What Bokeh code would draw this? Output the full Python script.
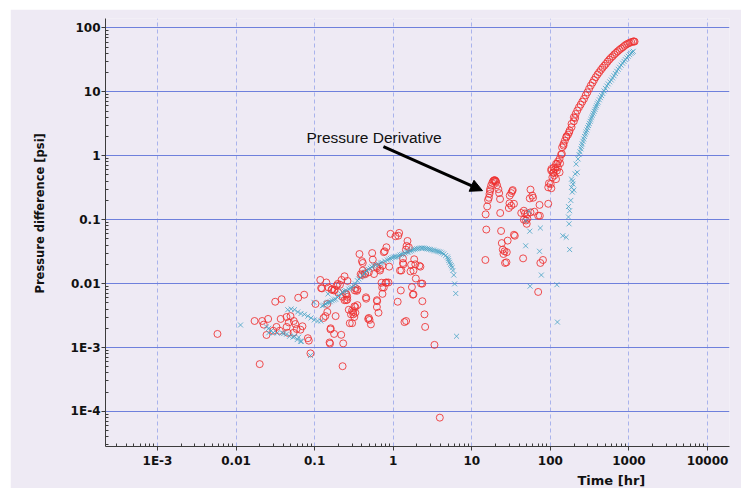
import numpy as np
from bokeh.plotting import figure
from bokeh.models import (Range1d, FixedTicker, CustomJSTickFormatter, Label,
                          Arrow, NormalHead, Title)
from bokeh.embed import file_html
from bokeh.resources import INLINE

# ---- Pressure derivative (red circles): elapsed time [hr] and value [psi]
deriv_time = [
    0.0058, 0.020, 0.0172, 0.0215, 0.0256, 0.0225, 0.0244, 0.0315, 0.038, 0.0618,
    0.0736, 0.037, 0.0439, 0.0493, 0.0327, 0.036, 0.044, 0.0469, 0.0543, 0.0568,
    0.059, 0.070, 0.066, 0.054, 0.0455, 0.0297, 0.0843, 0.082, 0.0885, 0.1026,
    0.118, 0.141, 0.150, 0.155, 0.159, 0.177, 0.157, 0.218, 0.231, 0.227,
    0.185, 0.121, 0.164, 0.176, 0.197, 0.240, 0.262, 0.252, 0.228, 0.255,
    0.272, 0.30, 0.321, 0.29, 0.31, 0.28, 0.30, 0.453, 0.48, 0.50,
    0.52, 0.625, 0.65, 0.62, 0.724,
    0.372, 0.54, 0.55, 0.40, 0.41, 0.61, 0.68, 0.57, 0.435, 0.40,
    0.41, 0.76, 0.78, 0.82, 0.924, 1.07, 1.19, 1.16, 1.52, 1.45,
    1.48, 1.58, 0.89, 0.82, 0.87, 1.25, 1.14, 1.39, 1.46, 1.27,
    1.35, 1.33, 1.69, 1.91, 2.22, 1.66, 1.94, 2.26, 2.35, 1.73,
    1.81, 2.35, 2.50, 2.55, 3.35, 3.92,
    1.33, 1.85, 2.15, 1.81, 1.22, 0.73, 0.625, 0.68, 0.49, 0.385,
    0.44, 0.22, 0.21, 0.19, 0.124, 0.167, 0.18, 0.20, 0.71, 0.80,
    0.76, 0.73, 0.62, 1.78, 0.33, 0.325, 0.35, 0.345, 0.45, 0.26,
    0.24, 0.26, 0.25, 0.35, 0.33, 0.145, 0.145, 0.137, 0.13, 0.31,
    0.32, 0.33, 0.49, 0.16,
    15.0, 15.7, 16.1, 16.5, 16.8, 17.1, 17.1, 17.6, 18.2, 18.7,
    19.1, 19.5, 19.8, 20.1, 20.4, 21.0, 21.8, 22.3, 22.9, 23.0,
    15.3, 14.9, 23.6, 42.6, 29.6, 31.8, 30.4, 31.8, 32.7, 33.2,
    30.2, 34.4, 55.9, 58.9, 60.3, 54.7, 72.8, 94, 46, 47.5,
    50.7, 46, 49, 51, 50, 55.9, 62.5, 70, 73.5, 34.4,
    35.3, 28.6, 24.1, 24.8, 26.1, 27.9, 25.3, 26.5, 27.6, 45,
    80.5, 74.6, 70,
    94, 96, 101, 103, 102.5, 103, 106, 108.7, 109, 110,
    112, 115, 118, 118, 121, 122, 125, 125, 131, 131,
    133, 137, 140, 141, 147, 147, 153, 160, 160, 168,
    173, 176, 186, 186, 199, 199, 207,
    210, 220, 231, 243, 255, 268, 282, 296, 311, 327,
    345, 360, 378, 398, 418, 440, 461, 485, 509, 535,
    562, 590, 621, 652, 685, 720, 757, 795, 836, 878,
    923, 970, 1020, 1070, 1127, 1155, 1180,
]
deriv_psi = [
    0.00163, 0.00055, 0.0026, 0.0026, 0.0028, 0.00228, 0.00157, 0.0052, 0.0057, 0.0060,
    0.0067, 0.0028, 0.0030, 0.0031, 0.0021, 0.00183, 0.0021, 0.00247, 0.0026, 0.00233,
    0.00195, 0.00215, 0.0019, 0.0017, 0.0017, 0.00183, 0.00128, 0.0014, 0.00081, 0.0048,
    0.0114, 0.0104, 0.0087, 0.0012, 0.00192, 0.00163, 0.00115, 0.00158, 0.00116, 0.00051,
    0.0031, 0.0085, 0.0080, 0.0078, 0.0099, 0.0130, 0.011, 0.0055, 0.0062, 0.0067,
    0.0039, 0.0038, 0.0044, 0.0033, 0.0033, 0.0024, 0.0024, 0.0058, 0.0028, 0.0027,
    0.0023, 0.0053, 0.0035, 0.0043, 0.0087,
    0.029, 0.030, 0.0237, 0.0224, 0.021, 0.0184, 0.017, 0.0141, 0.0144, 0.0136,
    0.016, 0.031, 0.032, 0.037, 0.060, 0.055, 0.062, 0.056, 0.0464, 0.034,
    0.0388, 0.037, 0.0184, 0.0104, 0.0104, 0.0078, 0.0052, 0.0025, 0.0026, 0.016,
    0.020, 0.021, 0.0197, 0.020, 0.0184, 0.0155, 0.012, 0.0100, 0.0100, 0.0088,
    0.0068, 0.0053, 0.0033, 0.0021, 0.0011, 0.00008,
    0.0247, 0.024, 0.019, 0.016, 0.016, 0.019, 0.0176, 0.016, 0.015, 0.014,
    0.014, 0.0114, 0.0096, 0.0093, 0.0084, 0.0082, 0.0080, 0.0073, 0.0103, 0.0103,
    0.0087, 0.0069, 0.0055, 0.0067, 0.0085, 0.0078, 0.0081, 0.0077, 0.0061, 0.0062,
    0.0055, 0.0056, 0.0070, 0.0046, 0.0043, 0.0048, 0.0036, 0.0031, 0.0029, 0.0036,
    0.0030, 0.0035, 0.0029, 0.0020,
    0.121, 0.161, 0.203, 0.22, 0.252, 0.28, 0.30, 0.34, 0.376, 0.40,
    0.41, 0.415, 0.41, 0.40, 0.39, 0.345, 0.30, 0.26, 0.21, 0.127,
    0.070, 0.0234, 0.0665, 0.127, 0.152, 0.165, 0.238, 0.26, 0.28, 0.29,
    0.18, 0.177, 0.295, 0.238, 0.22, 0.215, 0.17, 0.177, 0.138, 0.125,
    0.122, 0.10, 0.097, 0.104, 0.086, 0.13, 0.133, 0.115, 0.115, 0.058,
    0.056, 0.047, 0.043, 0.034, 0.032, 0.031, 0.029, 0.021, 0.0215, 0.0248,
    0.0234, 0.021, 0.0074,
    0.32, 0.37, 0.36, 0.31, 0.585, 0.62, 0.46, 0.546, 0.54, 0.65,
    0.49, 0.62, 0.43, 0.745, 0.585, 0.745, 0.66, 0.81, 0.55, 0.89,
    0.76, 1.04, 1.07, 1.35, 1.44, 1.53, 1.72, 1.94, 2.0, 2.14,
    2.32, 2.47, 2.8, 3.15, 3.45, 3.99, 3.9,
    4.5, 5.08, 5.7, 6.3, 7.0, 7.74, 8.8, 9.8, 11.1, 12.5,
    13.9, 15.3, 16.9, 18.6, 20.2, 22.0, 23.7, 25.5, 27.3, 29.6,
    31.8, 34.0, 36.0, 38.4, 40.6, 43.0, 45.3, 47.5, 49.7, 52.3,
    54.8, 56.6, 58.2, 59.8, 61.1, 61.3, 61.0,
]

# ---- Pressure difference (blue crosses): elapsed time [hr] and value [psi]
dp_time = [
    0.0114, 0.0244, 0.0261, 0.0261, 0.028, 0.0297, 0.0333, 0.0386, 0.0404, 0.0439,
    0.048, 0.053, 0.0553, 0.06, 0.0626, 0.066, 0.068, 0.0455, 0.0502, 0.0553,
    0.061, 0.067, 0.074, 0.082, 0.090, 0.099, 0.109, 0.120, 0.098, 0.0885,
    0.148,
    0.125, 0.131, 0.138, 0.144, 0.150, 0.158, 0.167, 0.176, 0.185, 0.195,
    0.204, 0.215, 0.226, 0.238, 0.25, 0.272, 0.285, 0.30, 0.315, 0.33,
    0.35, 0.365, 0.385, 0.405, 0.425, 0.44, 0.46, 0.485, 0.51, 0.535,
    0.56, 0.60, 0.65, 0.69, 0.72, 0.78, 0.84, 0.88, 0.92, 0.97,
    1.02, 1.07, 1.12, 1.17, 1.22, 1.28, 1.35, 1.42, 1.49, 1.56,
    1.64, 1.72, 1.81, 1.9, 2.0, 2.1, 2.22, 2.33, 2.45, 2.58,
    2.71, 2.85, 2.99, 3.15, 3.3, 3.47, 3.65, 3.82, 4.0, 4.2,
    4.4, 4.65, 4.9, 5.0, 5.1, 5.2, 5.35, 5.5, 5.63, 5.75,
    5.9, 6.05, 6.25, 6.4,
    53.2, 48.5, 54.7, 74.6, 48.5, 72.8, 76.8, 55.2, 121, 123,
    144, 159, 170, 173, 176, 182, 170, 176, 186, 190,
    194, 199, 186, 192,
    207, 213, 220, 225, 232, 238, 245, 249, 254, 260,
    266, 272, 279, 285, 292, 299, 306, 313, 321, 328,
    336, 344, 352, 361, 370, 378, 387, 396, 406, 420,
    434, 450, 465, 483, 502, 523, 544, 570, 596, 620,
    646, 672, 700, 730, 760, 795, 832, 865, 900, 940,
    980, 1020, 1060, 1100, 1135,
]
dp_psi = [
    0.00225, 0.0021, 0.0020, 0.0017, 0.00183, 0.0017, 0.00168, 0.0017, 0.00165, 0.00162,
    0.0015, 0.00145, 0.0015, 0.00133, 0.00145, 0.00125, 0.00125, 0.0039, 0.0040, 0.0039,
    0.0036, 0.0034, 0.0033, 0.0031, 0.0029, 0.0027, 0.0026, 0.0026, 0.0051, 0.00075,
    0.0069,
    0.0045, 0.0046, 0.0048, 0.0050, 0.0051, 0.0052, 0.0054, 0.0056, 0.0057, 0.0061,
    0.0065, 0.0069, 0.0073, 0.0076, 0.0078, 0.0082, 0.0085, 0.0087, 0.0093, 0.0099,
    0.0111, 0.0118, 0.0125, 0.0133, 0.0141, 0.015, 0.016, 0.0167, 0.0174, 0.0182,
    0.019, 0.0195, 0.020, 0.021, 0.0215, 0.0225, 0.0234, 0.024, 0.0248, 0.0255,
    0.026, 0.0262, 0.0264, 0.027, 0.028, 0.0285, 0.029, 0.030, 0.031, 0.031,
    0.032, 0.033, 0.034, 0.0345, 0.035, 0.0355, 0.036, 0.036, 0.036, 0.0355,
    0.035, 0.0345, 0.034, 0.0335, 0.033, 0.0325, 0.032, 0.0315, 0.031, 0.030,
    0.029, 0.0275, 0.026, 0.0245, 0.023, 0.0215, 0.020, 0.019, 0.0178, 0.016,
    0.0136, 0.0099, 0.0070, 0.0015,
    0.135, 0.096, 0.066, 0.074, 0.039, 0.032, 0.0136, 0.0091, 0.0096, 0.0025,
    0.056, 0.053, 0.16, 0.086, 0.034, 0.2, 0.11, 0.138, 0.32, 0.27,
    0.36, 0.29, 0.43, 0.40,
    0.52, 0.74, 0.55, 0.89, 1.04, 1.15, 1.28, 1.4, 1.53, 1.68,
    1.83, 2.0, 2.19, 2.35, 2.53, 2.75, 2.97, 3.2, 3.45, 3.7,
    3.99, 4.3, 4.62, 4.95, 5.3, 5.7, 6.06, 6.5, 6.9, 7.5,
    8.1, 8.7, 9.4, 10.3, 11.3, 12.3, 13.3, 14.3, 15.3, 16.5,
    17.8, 19.3, 20.9, 22.5, 24.2, 26.1, 28.0, 29.9, 31.8, 33.9,
    36.0, 38.0, 39.9, 41.5, 43.0,
]

# ---- Axis ticks and their labels
x_tick_values = [1e-3, 1e-2, 1e-1, 1, 10, 100, 1000, 10000]
x_tick_labels = ["1E-3", "0.01", "0.1", "1", "10", "100", "1000", "10000"]
y_tick_values = [1e-4, 1e-3, 1e-2, 1e-1, 1, 10, 100]
y_tick_labels = ["1E-4", "1E-3", "0.01", "0.1", "1", "10", "100"]

BG = "#EEEAF4"
TICK_FONT = "DejaVu Sans"


def minor_ticks(lo_exp, hi_exp):
    return [k * 10.0 ** e for e in range(lo_exp, hi_exp + 1) for k in range(2, 10)]


def label_formatter(vals, labs):
    return CustomJSTickFormatter(args=dict(vals=vals, labs=labs), code="""
        for (let i = 0; i < vals.length; i++) {
            if (Math.abs(Math.log10(vals[i]) - Math.log10(tick)) < 1e-6) return labs[i];
        }
        return "";
    """)


p = figure(width=731, height=479, x_axis_type="log", y_axis_type="log",
           x_range=Range1d(2.18e-4, 1.905e4), y_range=Range1d(2.83e-5, 140),
           output_backend="svg", toolbar_location=None,
           min_border_left=95, min_border_right=12, min_border_top=9,
           min_border_bottom=42,
           background_fill_color=BG, border_fill_color=BG,
           outline_line_color=None)
p.margin = (9, 0, 0, 10)

p.xaxis.ticker = FixedTicker(ticks=x_tick_values, minor_ticks=minor_ticks(-4, 4))
p.yaxis.ticker = FixedTicker(ticks=y_tick_values, minor_ticks=minor_ticks(-5, 2))
p.xaxis.formatter = label_formatter(x_tick_values, x_tick_labels)
p.yaxis.formatter = label_formatter(y_tick_values, y_tick_labels)

for ax in (p.xaxis[0], p.yaxis[0]):
    ax.axis_line_color = "#3c3c3c"
    ax.major_tick_line_color = "#3c3c3c"
    ax.minor_tick_line_color = "#3c3c3c"
    ax.major_tick_out = 4
    ax.major_tick_in = 0
    ax.minor_tick_out = 0
    ax.minor_tick_in = 3
    ax.major_label_text_font = TICK_FONT
    ax.major_label_text_font_style = "bold"
    ax.major_label_text_font_size = "12px"
    ax.major_label_text_color = "#111111"
p.xaxis.major_label_standoff = 3
p.yaxis.major_label_standoff = 1

# grid: solid horizontal decades, dashed vertical decades
p.ygrid.grid_line_color = "#6E80DC"
p.ygrid.grid_line_width = 1
p.xgrid.grid_line_color = "#A9B3EC"
p.xgrid.grid_line_width = 1
p.xgrid.grid_line_dash = "4 3"

p.scatter(deriv_time, deriv_psi, marker="circle", size=7, fill_color=None,
          line_color="#EE3030", line_alpha=0.85, line_width=1)
p.scatter(dp_time, dp_psi, marker="x", size=7, line_color="#45A2C4",
          line_alpha=0.8, line_width=1)

# axis titles as side titles so they can be offset along the axis
p.add_layout(Title(text="Pressure difference [psi]", align="left", offset=153,
                   standoff=41, text_font=TICK_FONT, text_font_style="bold",
                   text_font_size="11.5px", text_color="#111111"), "left")
p.add_layout(Title(text="Time [hr]", align="left", offset=472, standoff=0,
                   text_font=TICK_FONT, text_font_style="bold",
                   text_font_size="13px", text_color="#111111"), "below")

# annotation pointing at the derivative hump
p.add_layout(Label(x=0.0787, y=1.92, text="Pressure Derivative",
                   text_align="left", text_baseline="alphabetic",
                   text_font="Liberation Sans", text_font_size="15.5px",
                   text_color="#111111"))
p.add_layout(Arrow(end=NormalHead(size=12, fill_color="black", line_color="black"),
                   x_start=0.751, y_start=1.39, x_end=13.7, y_end=0.284,
                   line_width=3, line_color="black"))

open("out.html", "w").write(file_html(p, INLINE))
